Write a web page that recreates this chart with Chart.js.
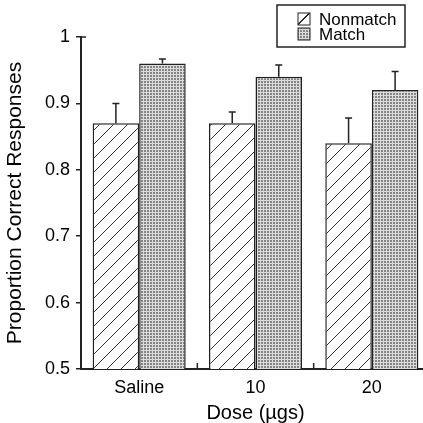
<!DOCTYPE html>
<html lang="en">
<head>
<meta charset="UTF-8" />
<title>Proportion Correct Responses</title>
<script src="https://cdn.jsdelivr.net/npm/chart.js"></script>
<style>
  html, body { margin: 0; padding: 0; background: #fff; overflow: hidden; }
</style>
</head>
<body>
<canvas id="myChart" width="440" height="423"></canvas>
<script>
  // data
  const doses = ["Saline", "10", "20"];
  const nonmatch = [0.87, 0.87, 0.84];
  const match = [0.96, 0.94, 0.92];
  const nonmatchErr = [0.03, 0.017, 0.038];
  const matchErr = [0.007, 0.018, 0.028];
  const yTicks = [0.5, 0.6, 0.7, 0.8, 0.9, 1];

  const font = "'Liberation Sans', Arial, sans-serif";
  const ink = "#222";

  // diagonal hatching for Nonmatch
  function hatchPattern() {
    const n = 14;
    const c = document.createElement("canvas");
    c.width = n; c.height = n;
    const g = c.getContext("2d");
    g.fillStyle = "#fff";
    g.fillRect(0, 0, n, n);
    g.strokeStyle = "#333";
    g.lineWidth = 1;
    g.beginPath();
    g.moveTo(-2, n + 2); g.lineTo(n + 2, -2);
    g.moveTo(-2, 2); g.lineTo(2, -2);
    g.moveTo(n - 2, n + 2); g.lineTo(n + 2, n - 2);
    g.stroke();
    return g.createPattern(c, "repeat");
  }

  // stipple dots for Match
  function dotPattern() {
    const c = document.createElement("canvas");
    c.width = 3; c.height = 3;
    const g = c.getContext("2d");
    g.fillStyle = "#dcdcdc";
    g.fillRect(0, 0, 3, 3);
    g.fillStyle = "#858585";
    g.fillRect(0, 0, 2, 2);
    return g.createPattern(c, "repeat");
  }

  const hatch = hatchPattern();
  const dots = dotPattern();

  // upward error bars + inward x ticks + boxed legend
  const extras = {
    id: "extras",
    afterDatasetsDraw(chart) {
      const ctx = chart.ctx;
      const y = chart.scales.y;
      const x = chart.scales.x;
      const errs = [nonmatchErr, matchErr];
      ctx.save();
      ctx.strokeStyle = ink;
      ctx.lineWidth = 1.5;
      chart.data.datasets.forEach((ds, i) => {
        chart.getDatasetMeta(i).data.forEach((bar, j) => {
          const top = y.getPixelForValue(ds.data[j] + errs[i][j]);
          ctx.beginPath();
          ctx.moveTo(bar.x, bar.y);
          ctx.lineTo(bar.x, top);
          ctx.moveTo(bar.x - 3.5, top);
          ctx.lineTo(bar.x + 3.5, top);
          ctx.stroke();
        });
      });
      // small inward ticks between categories
      const base = y.getPixelForValue(0.5);
      for (let i = 0; i < doses.length - 1; i++) {
        const px = (x.getPixelForValue(i) + x.getPixelForValue(i + 1)) / 2;
        ctx.beginPath();
        ctx.moveTo(px, base);
        ctx.lineTo(px, base - 6);
        ctx.stroke();
      }
      // short inward tick at the top of the y axis
      const top = y.getPixelForValue(1);
      ctx.beginPath();
      ctx.moveTo(y.right, top);
      ctx.lineTo(y.right + 5, top);
      ctx.stroke();
      ctx.restore();
    },
    afterDraw(chart) {
      const ctx = chart.ctx;
      ctx.save();
      ctx.strokeStyle = ink;
      ctx.lineWidth = 1.5;
      ctx.strokeRect(277, 5, 128, 42);
      ctx.font = "17px " + font;
      ctx.textBaseline = "middle";
      chart.data.datasets.forEach((ds, i) => {
        const cy = 19 + i * 15;
        ctx.fillStyle = ds.backgroundColor;
        ctx.fillRect(298, cy - 6, 12, 12);
        ctx.lineWidth = 1;
        ctx.strokeRect(298, cy - 6, 12, 12);
        if (i === 0) {
          ctx.beginPath();
          ctx.moveTo(298, cy + 6);
          ctx.lineTo(310, cy - 6);
          ctx.stroke();
        }
        ctx.fillStyle = "#000";
        ctx.fillText(ds.label, 319, cy + 1);
      });
      ctx.restore();
    }
  };

  const data = {
    labels: doses,
    datasets: [
      {
        label: "Nonmatch",
        data: nonmatch,
        backgroundColor: hatch,
        borderColor: ink,
        borderWidth: 1.5,
      },
      {
        label: "Match",
        data: match,
        backgroundColor: dots,
        borderColor: ink,
        borderWidth: 1.5,
      },
    ],
  };

  const config = {
    type: "bar",
    data: data,
    plugins: [extras],
    options: {
      responsive: false,
      animation: false,
      layout: { padding: { top: 37, right: 10, left: 0, bottom: 0 } },
      datasets: { bar: { categoryPercentage: 0.8, barPercentage: 1.0 } },
      plugins: { legend: { display: false }, tooltip: { enabled: false } },
      scales: {
        x: {
          grid: { display: false },
          border: { color: ink, width: 2 },
          ticks: { color: "#000", font: { family: font, size: 18 }, padding: 0, maxRotation: 0 },
          title: {
            display: true,
            text: "Dose (\u00b5gs)",
            color: "#000",
            font: { family: font, size: 20, lineHeight: 1 },
            padding: { top: 0, bottom: 0 },
          },
          afterFit: (s) => { s.height = 54; },
        },
        y: {
          min: 0.5,
          max: 1,
          afterBuildTicks: (s) => { s.ticks = yTicks.map((v) => ({ value: v })); },
          grid: { drawOnChartArea: false, drawTicks: true, tickLength: 5, tickColor: ink, lineWidth: 1.5 },
          border: { color: ink, width: 2 },
          ticks: {
            color: "#000",
            font: { family: font, size: 18 },
            padding: 6,
            callback: (v) => (v === 1 ? "1" : v.toFixed(1)),
          },
          title: {
            display: true,
            text: "Proportion Correct Responses",
            color: "#000",
            font: { family: font, size: 21 },
            padding: { top: 3, bottom: 0 },
          },
          afterFit: (s) => { s.width = 81; },
        },
      },
    },
  };

  const myChart = new Chart(document.getElementById("myChart"), config);
</script>
</body>
</html>
